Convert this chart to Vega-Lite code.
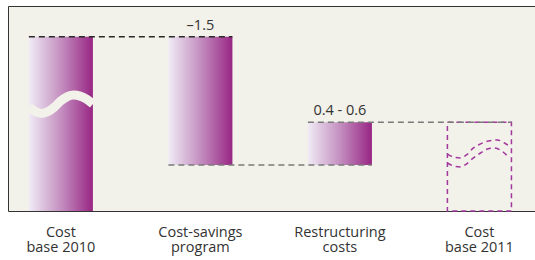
{
  "$schema": "https://vega.github.io/schema/vega-lite/v6.json",
  "width": 530,
  "height": 205,
  "padding": {"left": 8, "top": 6, "right": 0, "bottom": 4},
  "background": "#ffffff",
  "view": {"fill": "#f2f1ea", "stroke": "#333333", "strokeWidth": 1},
  "config": {"font": "Open Sans"},
  "resolve": {"scale": {"xOffset": "independent"}},
  "datasets": {
    "bars": [
      {"step": "Cost\nbase 2010", "start": 0, "end": 2.04, "label": "", "kind": "actual"},
      {"step": "Cost-savings\nprogram", "start": 0.54, "end": 2.04, "label": "–1.5", "kind": "actual"},
      {"step": "Restructuring\ncosts", "start": 0.54, "end": 1.04, "label": "0.4 - 0.6", "kind": "actual"},
      {"step": "Cost\nbase 2011", "start": 0, "end": 1.04, "label": "", "kind": "estimate"}
    ],
    "links": [
      {"from": "Cost\nbase 2010", "to": "Cost-savings\nprogram", "level": 2.04, "tone": "dark"},
      {"from": "Cost-savings\nprogram", "to": "Restructuring\ncosts", "level": 0.54, "tone": "light"},
      {"from": "Restructuring\ncosts", "to": "Cost\nbase 2011", "level": 1.04, "tone": "light"}
    ],
    "waves": [
      {"step": "Cost\nbase 2010", "curve": "cut", "t": 0, "v": 1.218},
      {"step": "Cost\nbase 2010", "curve": "cut", "t": 0.1, "v": 1.165},
      {"step": "Cost\nbase 2010", "curve": "cut", "t": 0.2, "v": 1.142},
      {"step": "Cost\nbase 2010", "curve": "cut", "t": 0.3, "v": 1.165},
      {"step": "Cost\nbase 2010", "curve": "cut", "t": 0.4, "v": 1.218},
      {"step": "Cost\nbase 2010", "curve": "cut", "t": 0.5, "v": 1.29},
      {"step": "Cost\nbase 2010", "curve": "cut", "t": 0.6, "v": 1.34},
      {"step": "Cost\nbase 2010", "curve": "cut", "t": 0.7, "v": 1.358},
      {"step": "Cost\nbase 2010", "curve": "cut", "t": 0.8, "v": 1.345},
      {"step": "Cost\nbase 2010", "curve": "cut", "t": 0.9, "v": 1.31},
      {"step": "Cost\nbase 2010", "curve": "cut", "t": 1.0, "v": 1.253},
      {"step": "Cost\nbase 2011", "curve": "upper", "t": 0, "v": 0.667},
      {"step": "Cost\nbase 2011", "curve": "upper", "t": 0.094, "v": 0.632},
      {"step": "Cost\nbase 2011", "curve": "upper", "t": 0.203, "v": 0.621},
      {"step": "Cost\nbase 2011", "curve": "upper", "t": 0.297, "v": 0.656},
      {"step": "Cost\nbase 2011", "curve": "upper", "t": 0.406, "v": 0.738},
      {"step": "Cost\nbase 2011", "curve": "upper", "t": 0.516, "v": 0.785},
      {"step": "Cost\nbase 2011", "curve": "upper", "t": 0.641, "v": 0.82},
      {"step": "Cost\nbase 2011", "curve": "upper", "t": 0.781, "v": 0.831},
      {"step": "Cost\nbase 2011", "curve": "upper", "t": 0.891, "v": 0.796},
      {"step": "Cost\nbase 2011", "curve": "upper", "t": 0.984, "v": 0.749},
      {"step": "Cost\nbase 2011", "curve": "lower", "t": 0, "v": 0.562},
      {"step": "Cost\nbase 2011", "curve": "lower", "t": 0.094, "v": 0.527},
      {"step": "Cost\nbase 2011", "curve": "lower", "t": 0.203, "v": 0.515},
      {"step": "Cost\nbase 2011", "curve": "lower", "t": 0.297, "v": 0.55},
      {"step": "Cost\nbase 2011", "curve": "lower", "t": 0.406, "v": 0.621},
      {"step": "Cost\nbase 2011", "curve": "lower", "t": 0.516, "v": 0.679},
      {"step": "Cost\nbase 2011", "curve": "lower", "t": 0.625, "v": 0.726},
      {"step": "Cost\nbase 2011", "curve": "lower", "t": 0.719, "v": 0.738},
      {"step": "Cost\nbase 2011", "curve": "lower", "t": 0.828, "v": 0.714},
      {"step": "Cost\nbase 2011", "curve": "lower", "t": 0.953, "v": 0.632}
    ]
  },
  "encoding": {
    "x": {
      "field": "step",
      "type": "nominal",
      "sort": null,
      "title": null,
      "scale": {
        "domain": ["Cost\nbase 2010", "Cost-savings\nprogram", "Restructuring\ncosts", "Cost\nbase 2011"],
        "paddingInner": 0.541,
        "paddingOuter": 0.17,
        "align": 0.44
      },
      "axis": {
        "domain": false,
        "ticks": false,
        "tickSize": 0,
        "labelAngle": 0,
        "labelPadding": 14,
        "labelFontSize": 14.5,
        "labelLineHeight": 15.5,
        "labelColor": "#333333",
        "labelFont": "Open Sans",
        "labelExpr": "split(datum.label, '\\n')"
      }
    }
  },
  "layer": [
    {
      "data": {"name": "bars"},
      "transform": [{"filter": "datum.kind == 'actual'"}],
      "mark": {
        "type": "bar",
        "color": {
          "gradient": "linear",
          "x1": 0, "x2": 1, "y1": 0, "y2": 0,
          "stops": [
            {"offset": 0, "color": "#f0ebf5"},
            {"offset": 0.5, "color": "#c48fc0"},
            {"offset": 1, "color": "#982684"}
          ]
        }
      },
      "encoding": {
        "y": {"field": "start", "type": "quantitative", "scale": {"domain": [0, 2.4], "nice": false}, "axis": null},
        "y2": {"field": "end"}
      }
    },
    {
      "data": {"name": "bars"},
      "transform": [{"filter": "datum.kind == 'estimate'"}],
      "mark": {"type": "bar", "fill": null, "fillOpacity": 0, "stroke": "#a3399d", "strokeWidth": 1.5, "strokeDash": [5, 4]},
      "encoding": {
        "y": {"field": "start", "type": "quantitative"},
        "y2": {"field": "end"}
      }
    },
    {
      "data": {"name": "waves"},
      "transform": [{"filter": "datum.curve == 'cut'"}],
      "mark": {"type": "line", "interpolate": "monotone", "stroke": "#f2f1ea", "strokeWidth": 9, "strokeCap": "butt"},
      "encoding": {
        "xOffset": {"field": "t", "type": "quantitative", "scale": {"domain": [0, 1]}},
        "y": {"field": "v", "type": "quantitative"},
        "order": {"field": "t"}
      }
    },
    {
      "data": {"name": "waves"},
      "transform": [{"filter": "datum.curve != 'cut'"}],
      "mark": {"type": "line", "interpolate": "monotone", "stroke": "#a3399d", "strokeWidth": 1.5, "strokeDash": [5, 4]},
      "encoding": {
        "xOffset": {"field": "t", "type": "quantitative", "scale": {"domain": [0, 1]}},
        "y": {"field": "v", "type": "quantitative"},
        "detail": {"field": "curve"},
        "order": {"field": "t"}
      }
    },
    {
      "data": {"name": "links"},
      "mark": {"type": "rule", "strokeWidth": 1.5, "strokeDash": [6, 4]},
      "encoding": {
        "x": {"field": "from", "type": "nominal", "bandPosition": 0},
        "x2": {"field": "to", "bandPosition": 1},
        "y": {"field": "level", "type": "quantitative"},
        "color": {"field": "tone", "type": "nominal", "scale": {"domain": ["dark", "light"], "range": ["#2a2a2a", "#7a7a7a"]}, "legend": null}
      }
    },
    {
      "data": {"name": "bars"},
      "mark": {"type": "text", "dy": -7, "baseline": "alphabetic", "fontSize": 14.5, "color": "#333333", "font": "Open Sans"},
      "encoding": {
        "y": {"field": "end", "type": "quantitative"},
        "text": {"field": "label"}
      }
    }
  ]
}
